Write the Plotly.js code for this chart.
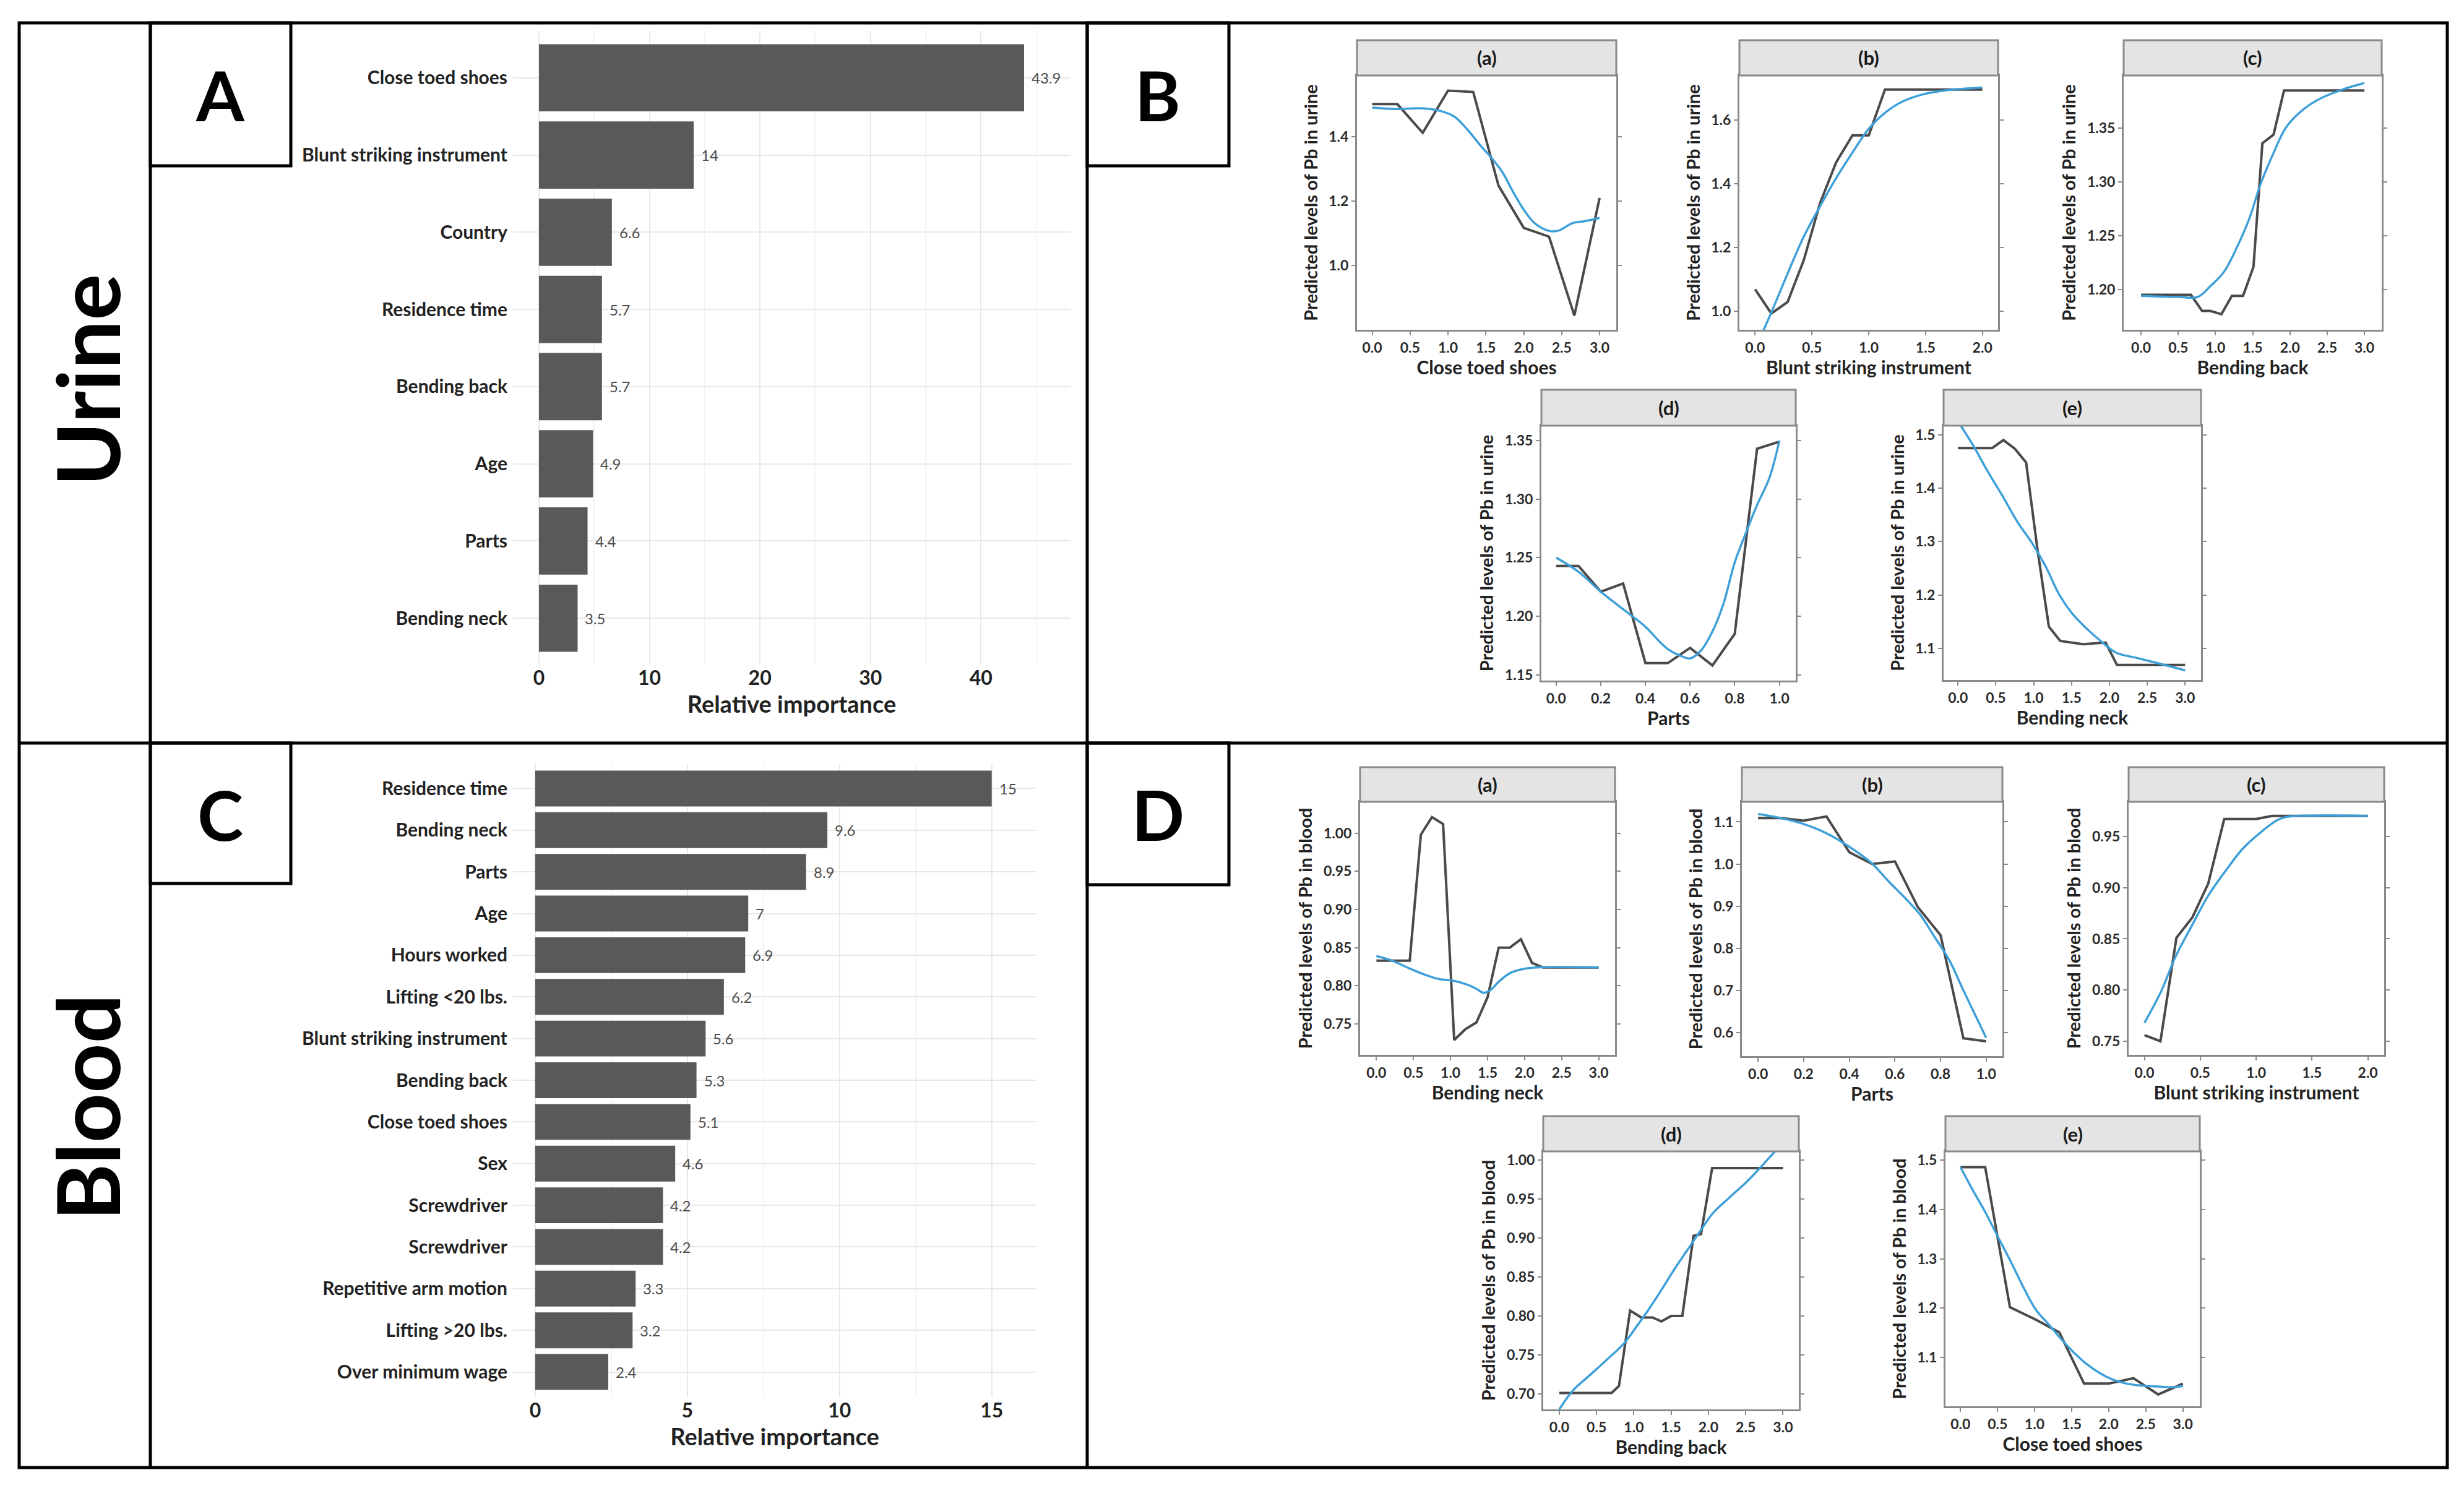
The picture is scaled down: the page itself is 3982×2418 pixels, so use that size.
<!DOCTYPE html>
<html><head><meta charset="utf-8">
<script src="https://cdn.plot.ly/plotly-3.0.1.min.js"></script>
<style>html,body{margin:0;padding:0;background:#fff;}#chart{width:3982px;height:2418px;}</style>
</head><body><div id="chart"></div>
<script>
// ---------------- DATA ----------------
// Panel A: relative importance, urine model
const urineFeatures = ['Close toed shoes','Blunt striking instrument','Country','Residence time','Bending back','Age','Parts','Bending neck'];
const urineImportance = [43.9,14,6.6,5.7,5.7,4.9,4.4,3.5];
// Panel C: relative importance, blood model
const bloodFeatures = ['Residence time','Bending neck','Parts','Age','Hours worked','Lifting <20 lbs.','Blunt striking instrument','Bending back','Close toed shoes','Sex','Screwdriver','Screwdriver','Repetitive arm motion','Lifting >20 lbs.','Over minimum wage'];
const bloodImportance = [15,9.6,8.9,7,6.9,6.2,5.6,5.3,5.1,4.6,4.2,4.2,3.3,3.2,2.4];

// Panel B (urine) partial dependence (black) and smooth fit (blue)
const uShoesX   = [0,0.333,0.667,1.0,1.333,1.667,2.0,2.333,2.667,3.0];
const uShoesPdp = [1.501,1.501,1.412,1.543,1.539,1.248,1.117,1.090,0.845,1.210];
const uShoesFitX = [0,0.315,0.687,0.916,1.088,1.26,1.431,1.575,1.718,1.861,2.004,2.147,2.348,2.462,2.634,2.806,3.0];
const uShoesFit  = [1.490,1.486,1.488,1.479,1.462,1.421,1.372,1.334,1.290,1.228,1.172,1.131,1.107,1.109,1.131,1.138,1.148];

const uBluntX   = [0,0.143,0.286,0.429,0.571,0.714,0.857,1.0,1.143,1.286,1.429,1.571,1.714,1.857,2.0];
const uBluntPdp = [1.068,0.992,1.028,1.160,1.338,1.467,1.551,1.551,1.695,1.695,1.695,1.695,1.695,1.695,1.695];
const uBluntFitX = [0,0.14,0.28,0.42,0.56,0.71,0.86,1.0,1.14,1.29,1.48,1.67,2.0];
const uBluntFit  = [0.88,0.993,1.112,1.227,1.321,1.415,1.499,1.572,1.621,1.656,1.680,1.692,1.701];

const uBackX   = [0,0.67,0.82,0.93,1.08,1.22,1.37,1.51,1.63,1.78,1.92,3.0];
const uBackPdp = [1.195,1.195,1.180,1.180,1.177,1.194,1.194,1.221,1.336,1.344,1.385,1.385];
const uBackFitX = [0,0.5,0.76,0.93,1.11,1.28,1.46,1.6,1.78,1.95,2.19,2.42,2.71,3.0];
const uBackFit  = [1.194,1.193,1.193,1.203,1.216,1.238,1.267,1.297,1.327,1.351,1.368,1.378,1.386,1.392];

const uPartsX   = [0,0.1,0.2,0.3,0.4,0.5,0.6,0.7,0.8,0.9,1.0];
const uPartsPdp = [1.243,1.243,1.221,1.228,1.160,1.160,1.173,1.158,1.185,1.343,1.349];
const uPartsFitX = [0,0.1,0.2,0.3,0.4,0.46,0.5,0.56,0.6,0.65,0.7,0.75,0.8,0.86,0.9,0.955,1.0];
const uPartsFit  = [1.250,1.238,1.221,1.206,1.191,1.179,1.172,1.166,1.164,1.171,1.187,1.211,1.246,1.276,1.295,1.318,1.350];

const uNeckX   = [0,0.45,0.6,0.75,0.9,1.05,1.2,1.35,1.65,1.95,2.1,3.0];
const uNeckPdp = [1.475,1.475,1.490,1.474,1.448,1.285,1.141,1.114,1.108,1.111,1.069,1.069];
const uNeckFitX = [0,0.2,0.39,0.59,0.78,0.98,1.16,1.34,1.51,1.7,1.9,2.09,2.37,2.65,3.0];
const uNeckFit  = [1.525,1.480,1.432,1.385,1.338,1.297,1.253,1.200,1.165,1.137,1.112,1.092,1.082,1.072,1.059];

// Panel D (blood)
const bNeckX   = [0,0.45,0.6,0.75,0.9,1.05,1.2,1.35,1.5,1.65,1.8,1.95,2.1,2.25,3.0];
const bNeckPdp = [0.833,0.833,0.998,1.021,1.012,0.729,0.743,0.752,0.785,0.850,0.850,0.861,0.830,0.824,0.824];
const bNeckFitX = [0,0.21,0.44,0.67,0.84,1.07,1.24,1.35,1.44,1.52,1.67,1.81,1.98,2.15,3.0];
const bNeckFit  = [0.839,0.833,0.823,0.814,0.809,0.806,0.801,0.796,0.791,0.793,0.807,0.817,0.822,0.824,0.824];

const bPartsX   = [0,0.1,0.2,0.3,0.4,0.5,0.6,0.7,0.8,0.9,1.0];
const bPartsPdp = [1.109,1.109,1.103,1.113,1.028,1.000,1.006,0.898,0.831,0.586,0.579];
const bPartsFitX = [0,0.1,0.2,0.28,0.35,0.43,0.5,0.57,0.65,0.71,0.77,0.84,0.9,1.0];
const bPartsFit  = [1.119,1.109,1.095,1.078,1.058,1.030,1.001,0.960,0.916,0.880,0.830,0.770,0.700,0.587];

const bBluntX   = [0,0.143,0.286,0.429,0.571,0.714,0.857,1.0,1.143,2.0];
const bBluntPdp = [0.756,0.750,0.851,0.871,0.904,0.967,0.967,0.967,0.970,0.970];
const bBluntFitX = [0,0.15,0.28,0.42,0.57,0.73,0.88,1.04,1.19,1.27,2.0];
const bBluntFit  = [0.768,0.799,0.833,0.862,0.892,0.917,0.938,0.954,0.966,0.969,0.970];

const bBackX   = [0,0.7,0.8,0.95,1.1,1.25,1.37,1.5,1.65,1.8,1.9,2.05,3.0];
const bBackPdp = [0.701,0.701,0.710,0.807,0.798,0.798,0.793,0.800,0.800,0.903,0.905,0.990,0.990];
const bBackFitX = [0,0.18,0.41,0.64,0.87,1.04,1.21,1.38,1.55,1.72,1.89,2.06,2.28,2.51,2.71,2.89,3.0];
const bBackFit  = [0.680,0.704,0.724,0.744,0.765,0.787,0.810,0.835,0.861,0.885,0.909,0.932,0.952,0.972,0.992,1.011,1.021];

const bShoesX   = [0,0.333,0.667,1.0,1.333,1.667,2.0,2.333,2.667,3.0];
const bShoesPdp = [1.486,1.486,1.202,1.178,1.151,1.047,1.047,1.058,1.025,1.047];
const bShoesFitX = [0,0.16,0.33,0.5,0.68,0.85,1.02,1.19,1.36,1.53,1.7,1.87,2.04,2.24,2.44,2.67,2.87,3.0];
const bShoesFit  = [1.486,1.441,1.396,1.346,1.294,1.242,1.196,1.167,1.137,1.110,1.087,1.069,1.056,1.047,1.043,1.041,1.040,1.042];

// ---------------- LAYOUT ----------------
const FONT = 'Lato, "Open Sans", "DejaVu Sans", sans-serif';
const W = 3982, H = 2418;
const px = v => v / W;
const py = v => 1 - v / H;
const DARK = '#222222';
const FRAME = '#8a8a8a';

const traces = [];
const layout = {
  width: W, height: H, margin: {l:0, r:0, t:0, b:0},
  paper_bgcolor: '#ffffff', plot_bgcolor: 'rgba(0,0,0,0)',
  showlegend: false, font: {family: FONT, color: DARK},
  shapes: [], annotations: []
};

// ---- bar panels ----
function barPanel(n, feats, vals, box, xr, xd, minorD, barW) {
  const pos = feats.map((_, i) => feats.length - i);
  const xs = n === 1 ? '' : String(n);
  traces.push({type:'bar', orientation:'h', x: vals, y: pos, width: barW,
    marker:{color:'#595959'}, xaxis:'x'+xs, yaxis:'y'+xs, hoverinfo:'skip'});
  layout['xaxis'+xs] = {domain:[px(box[0]), px(box[1])], anchor:'y'+xs, range: xr,
    tick0:0, dtick:xd, showgrid:true, gridcolor:'#e8e8e8', gridwidth:2, zeroline:false,
    showline:false, ticks:'', tickfont:{size:32, weight:'bold', color:DARK},
    minor:{tick0:0, dtick:minorD, showgrid:true, gridcolor:'#f3f3f3', gridwidth:2},
    title:{text:'Relative importance', font:{size:38, weight:'bold', color:DARK}, standoff:8}};
  layout['yaxis'+xs] = {domain:[py(box[3]), py(box[2])], anchor:'x'+xs,
    range:[0.4, feats.length + 0.6], tickmode:'array', tickvals: pos, ticktext: feats,
    showgrid:true, gridcolor:'#e8e8e8', gridwidth:2, zeroline:false, showline:false,
    ticks:'', ticklabelstandoff: 8, tickfont:{size:30, weight:'bold', color:DARK}};
  vals.forEach((v, i) => layout.annotations.push({xref:'x'+xs, yref:'y'+xs, x:v, y:pos[i],
    text:String(v), showarrow:false, xanchor:'left', yanchor:'middle', xshift:10,
    font:{size:24, color:'#4d4d4d'}}));
}
barPanel(1, urineFeatures, urineImportance, [829,1730,51,1074], [-2.35,48.1], 10, 5, 0.87);
barPanel(2, bloodFeatures, bloodImportance, [829,1675,1234,2258], [-0.73,16.47], 5, 2.5, 0.86);

// ---- partial dependence panels ----
const yU = 'Predicted levels of Pb in urine', yB = 'Predicted levels of Pb in blood';
const pdp = [
 {lab:'(a)', xt:'Close toed shoes', yt:yU, X:uShoesX, P:uShoesPdp, FX:uShoesFitX, F:uShoesFit, box:[2193,2612,122,533], st:65, xr:[-0.2,3.22], yr:[0.801,1.59], xd:0.5, yd:0.2, yf:'.1f'},
 {lab:'(b)', xt:'Blunt striking instrument', yt:yU, X:uBluntX, P:uBluntPdp, FX:uBluntFitX, F:uBluntFit, box:[2811,3229,122,533], st:65, xr:[-0.138,2.138], yr:[0.941,1.739], xd:0.5, yd:0.2, yf:'.1f'},
 {lab:'(c)', xt:'Bending back', yt:yU, X:uBackX, P:uBackPdp, FX:uBackFitX, F:uBackFit, box:[3432,3849,122,533], st:65, xr:[-0.233,3.232], yr:[1.1625,1.399], xd:0.5, yd:0.05, yf:'.2f'},
 {lab:'(d)', xt:'Parts', yt:yU, X:uPartsX, P:uPartsPdp, FX:uPartsFitX, F:uPartsFit, box:[2491,2902,688,1100], st:630, xr:[-0.066,1.073], yr:[1.1451,1.3627], xd:0.2, yd:0.05, yf:'.2f'},
 {lab:'(e)', xt:'Bending neck', yt:yU, X:uNeckX, P:uNeckPdp, FX:uNeckFitX, F:uNeckFit, box:[3141,3557,688,1099], st:630, xr:[-0.19,3.21], yr:[1.041,1.517], xd:0.5, yd:0.1, yf:'.1f'},
 {lab:'(a)', xt:'Bending neck', yt:yB, X:bNeckX, P:bNeckPdp, FX:bNeckFitX, F:bNeckFit, box:[2198,2610,1296,1705], st:1240, xr:[-0.22,3.22], yr:[0.7095,1.041], xd:0.5, yd:0.05, yf:'.2f'},
 {lab:'(b)', xt:'Parts', yt:yB, X:bPartsX, P:bPartsPdp, FX:bPartsFitX, F:bPartsFit, box:[2815,3236,1296,1707], st:1240, xr:[-0.071,1.071], yr:[0.5438,1.1477], xd:0.2, yd:0.1, yf:'.1f'},
 {lab:'(c)', xt:'Blunt striking instrument', yt:yB, X:bBluntX, P:bBluntPdp, FX:bBluntFitX, F:bBluntFit, box:[3440,3853,1296,1705], st:1240, xr:[-0.142,2.146], yr:[0.7367,0.9838], xd:0.5, yd:0.05, yf:'.2f'},
 {lab:'(d)', xt:'Bending back', yt:yB, X:bBackX, P:bBackPdp, FX:bBackFitX, F:bBackFit, box:[2494,2907,1861,2278], st:1804, xr:[-0.215,3.212], yr:[0.680,1.0114], xd:0.5, yd:0.05, yf:'.2f'},
 {lab:'(e)', xt:'Close toed shoes', yt:yB, X:bShoesX, P:bShoesPdp, FX:bShoesFitX, F:bShoesFit, box:[3144,3555,1861,2273], st:1804, xr:[-0.203,3.228], yr:[1.001,1.518], xd:0.5, yd:0.1, yf:'.1f'}
];

pdp.forEach((p, k) => {
  const n = k + 3;
  const [x0, x1, y0, y1] = p.box;
  traces.push({type:'scatter', mode:'lines', x:p.X, y:p.P, xaxis:'x'+n, yaxis:'y'+n,
    line:{color:'#4a4a4a', width:4}, hoverinfo:'skip'});
  traces.push({type:'scatter', mode:'lines', x:p.FX, y:p.F, xaxis:'x'+n, yaxis:'y'+n,
    line:{color:'#3d9fd8', width:3.5, shape:'spline', smoothing:1}, hoverinfo:'skip'});
  const tf = {size:23, weight:'bold', color:'#2b2b2b'};
  layout['xaxis'+n] = {domain:[px(x0), px(x1)], anchor:'y'+n, range:p.xr, tick0:0, dtick:p.xd,
    tickformat:'.1f', showgrid:false, zeroline:false, showline:true, mirror:true,
    linecolor:FRAME, linewidth:3, ticks:'outside', ticklen:6, tickwidth:2, tickcolor:FRAME,
    tickfont:tf, title:{text:p.xt, font:{size:30, weight:'bold', color:DARK}, standoff:6}};
  layout['yaxis'+n] = {domain:[py(y1), py(y0)], anchor:'x'+n, range:p.yr, tick0:0, dtick:p.yd,
    tickformat:p.yf, showgrid:false, zeroline:false, showline:true, mirror:'ticks',
    linecolor:FRAME, linewidth:3, ticks:'outside', ticklen:6, tickwidth:2, tickcolor:FRAME,
    tickfont:tf, title:{text:p.yt, font:{size:29, weight:'bold', color:DARK}, standoff:10}};
  layout.shapes.push({type:'rect', xref:'paper', yref:'paper', x0:px(x0), x1:px(x1),
    y0:py(y0), y1:py(p.st), fillcolor:'#e4e4e4', line:{color:FRAME, width:3}});
  layout.annotations.push({xref:'paper', yref:'paper', x:px((x0+x1)/2), y:py((y0+p.st)/2),
    text:p.lab, showarrow:false, xanchor:'center', yanchor:'middle',
    font:{size:31, weight:'bold', color:'#1a1a1a'}});
});

// ---- frame, dividers and letter boxes ----
const L = {color:'#000000', width:5};
const seg = (x0,y0,x1,y1) => layout.shapes.push({type:'line', xref:'paper', yref:'paper',
  x0:px(x0), y0:py(y0), x1:px(x1), y1:py(y1), line:L});
const box = (x0,y0,x1,y1) => layout.shapes.push({type:'rect', xref:'paper', yref:'paper',
  x0:px(x0), y0:py(y0), x1:px(x1), y1:py(y1), line:L, fillcolor:'rgba(0,0,0,0)'});
box(31, 37, 3955, 2372);
seg(243, 37, 243, 2372);
seg(1757, 37, 1757, 2372);
seg(31, 1201, 3955, 1201);
box(243, 37, 470, 268);
box(1757, 37, 1986, 268);
box(243, 1201, 470, 1428);
box(1757, 1201, 1986, 1430);

const letter = (t, x, y) => layout.annotations.push({xref:'paper', yref:'paper', x:px(x), y:py(y),
  text:t, showarrow:false, xanchor:'center', yanchor:'middle',
  font:{size:112, weight:'bold', color:'#000', family:FONT}});
letter('A', 356, 153); letter('B', 1871, 153); letter('C', 356, 1315); letter('D', 1871, 1315);

const side = (t, y) => layout.annotations.push({xref:'paper', yref:'paper', x:px(140), y:py(y),
  text:t, textangle:-90, showarrow:false, xanchor:'center', yanchor:'middle',
  font:{size:140, weight:'bold', color:'#000', family:FONT}});
side('Urine', 615); side('Blood', 1790);

Plotly.newPlot('chart', traces, layout, {displayModeBar:false, staticPlot:true});
</script>
</body></html>
